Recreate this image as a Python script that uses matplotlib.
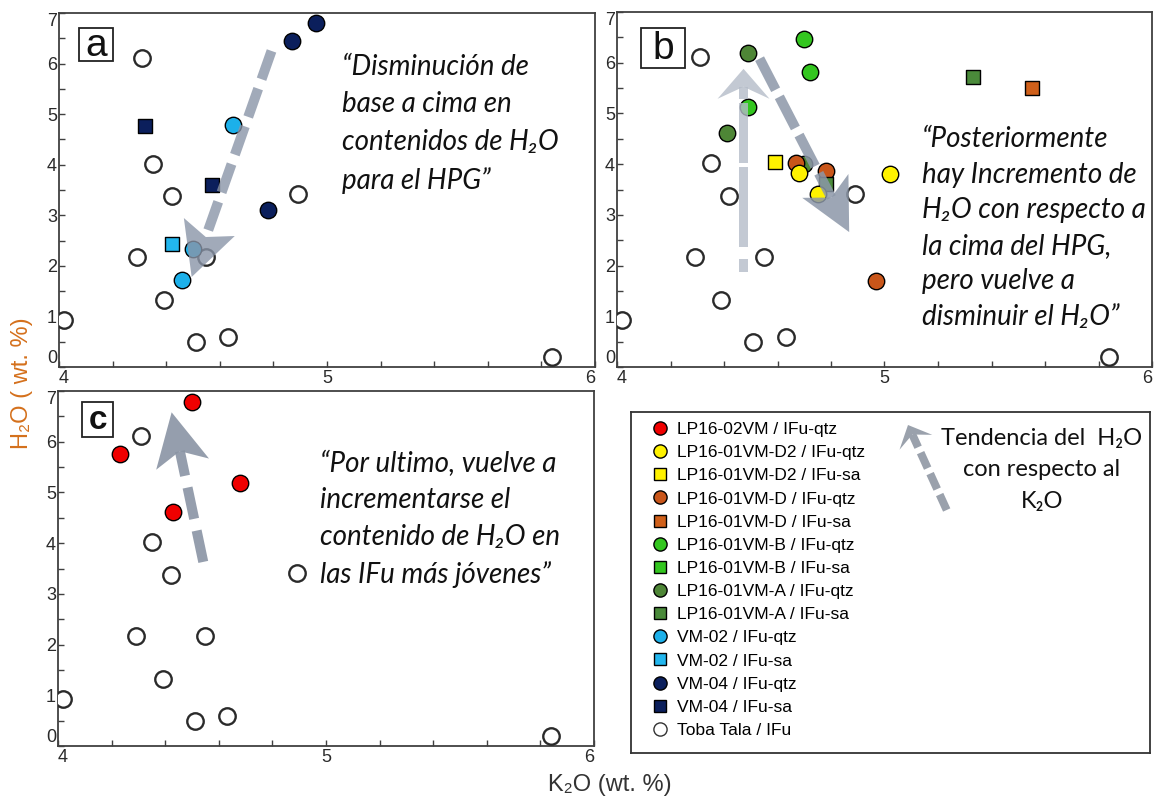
import matplotlib
matplotlib.use('Agg')
import matplotlib.pyplot as plt
import numpy as np
from matplotlib.patches import Polygon, Rectangle
from matplotlib.lines import Line2D

W, H = 1156, 799

# Toba Tala / IFu (drawn in every panel)
toba_k2o = [4.31, 4.35, 4.42, 4.29, 4.55, 4.39, 4.02, 4.51, 4.63, 4.89, 5.84]
toba_h2o = [6.12, 4.02, 3.38, 2.17, 2.17, 1.32, 0.93, 0.50, 0.60, 3.42, 0.19]

# panel a
vm04_qtz_k2o = [4.96, 4.87, 4.78]
vm04_qtz_h2o = [6.80, 6.44, 3.10]
vm04_sa_k2o = [4.32, 4.57]
vm04_sa_h2o = [4.77, 3.60]
vm02_qtz_k2o = [4.65, 4.46, 4.50]
vm02_qtz_h2o = [4.79, 1.72, 2.34]
vm02_sa_k2o = [4.42]
vm02_sa_h2o = [2.44]

# panel b
a_qtz_k2o = [4.49, 4.41, 4.70]
a_qtz_h2o = [6.19, 4.62, 4.00]
d_qtz_k2o = [4.67, 4.78, 4.97]
d_qtz_h2o = [4.02, 3.87, 1.69]
a_sa_k2o = [4.78, 5.33]
a_sa_h2o = [3.61, 5.71]
d2_qtz_k2o = [4.68, 4.75, 5.02]
d2_qtz_h2o = [3.82, 3.42, 3.80]
d2_sa_k2o = [4.59]
d2_sa_h2o = [4.05]
b_qtz_k2o = [4.70, 4.72, 4.49]
b_qtz_h2o = [6.47, 5.82, 5.13]
b_sa_k2o = []
b_sa_h2o = []
d_sa_k2o = [5.55]
d_sa_h2o = [5.50]

# panel c
lp02_qtz_k2o = [4.50, 4.23, 4.68, 4.43]
lp02_qtz_h2o = [6.79, 5.76, 5.18, 4.61]

legend_labels = ['LP16-02VM / IFu-qtz', 'LP16-01VM-D2 / IFu-qtz', 'LP16-01VM-D2 / IFu-sa',
                 'LP16-01VM-D / IFu-qtz', 'LP16-01VM-D / IFu-sa', 'LP16-01VM-B / IFu-qtz',
                 'LP16-01VM-B / IFu-sa', 'LP16-01VM-A / IFu-qtz', 'LP16-01VM-A / IFu-sa',
                 'VM-02 / IFu-qtz', 'VM-02 / IFu-sa', 'VM-04 / IFu-qtz', 'VM-04 / IFu-sa',
                 'Toba Tala / IFu']
legend_markers = ['o', 'o', 's', 'o', 's', 'o', 's', 'o', 's', 'o', 's', 'o', 's', 'o']
legend_colors = ['#f00000', '#fff200', '#fff200', '#c9561a', '#d0601a', '#33c61f', '#33c61f',
                 '#4e8636', '#4a8a3a', '#1cb0ea', '#22b6ee', '#0b1f5c', '#0b1f5c', 'white']

SANS = ['Liberation Sans', 'DejaVu Sans']
CAL = ['Lato', 'DejaVu Sans']
TICK_C = '#2a2a2a'


def fx(x):
    return x / W


def fy(y):
    return 1 - y / H


def make_axes(left, top, right, bottom):
    ax = fig.add_axes([fx(left), fy(bottom), (right - left) / W, (bottom - top) / H])
    ax.set_xlim(4, 6)
    ax.set_ylim(0, 7)
    ax.set_xticks([4, 5, 6])
    ax.set_yticks(range(8))
    ax.set_xticks(np.arange(4, 6.01, 0.2), minor=True)
    ax.set_yticks(np.arange(0, 7.01, 0.5), minor=True)
    ax.tick_params(which='both', direction='in', length=4, width=1, color='#404040')
    ax.tick_params(axis='x', labelsize=13, labelcolor=TICK_C, pad=2.5)
    ax.tick_params(axis='y', labelsize=13, labelcolor=TICK_C, pad=1.5)
    for sp in ax.spines.values():
        sp.set_color('#404040')
        sp.set_linewidth(1.3)
    for lab in ax.get_xticklabels() + ax.get_yticklabels():
        lab.set_family(SANS)
    xl = ax.get_xticklabels()
    xl[0].set_ha('left')
    xl[-1].set_ha('right')
    yl = ax.get_yticklabels()
    yl[0].set_va('bottom')
    yl[-1].set_va('top')
    return ax


def pts(ax, x, y, i, z=3):
    m = legend_markers[i]
    if i == 13:
        ax.scatter(x, y, s=140, marker='o', facecolor='white', edgecolor='#2a2a2a',
                   linewidth=1.7, zorder=z)
    else:
        ax.scatter(x, y, s=140 if m == 'o' else 98, marker=m, facecolor=legend_colors[i],
                   edgecolor='black', linewidth=1.0, zorder=z)


def dashed_arrow(ax, tail, tip, color, alpha, w, pattern, head_len, head_half, notch, tr=None):
    tr = ax.transData if tr is None else tr
    inv = ax.transData.inverted()
    p0 = tr.transform(tail)
    p1 = tr.transform(tip)
    d = p1 - p0
    L = np.hypot(*d)
    u = d / L
    n = np.array([-u[1], u[0]])
    base = p1 - u * head_len
    nb = p1 - u * head_len * notch
    shaft = L - head_len * notch
    s, i = 0.0, 0
    while s < shaft:
        dash = pattern[i % len(pattern)]
        gap = pattern[(i + 1) % len(pattern)]
        e = min(s + dash, shaft)
        a = p0 + u * s
        b = p0 + u * e
        poly = np.array([a + n * w / 2, b + n * w / 2, b - n * w / 2, a - n * w / 2])
        ax.add_patch(Polygon(inv.transform(poly), closed=True, facecolor=color,
                             edgecolor='none', alpha=alpha, zorder=6, clip_on=False))
        s = e + gap
        i += 2
    head = np.array([p1, base + n * head_half, nb, base - n * head_half])
    ax.add_patch(Polygon(inv.transform(head), closed=True, facecolor=color,
                         edgecolor='none', alpha=alpha, zorder=6, clip_on=False))


def panel_letter(x0, y0, x1, y1, letter, weight='normal', size=28):
    fig.patches.append(Rectangle((fx(x0), fy(y1)), (x1 - x0) / W, (y1 - y0) / H,
                                 transform=fig.transFigure, facecolor='white',
                                 edgecolor='#222222', linewidth=1.3, zorder=5))
    fig.text(fx((x0 + x1) / 2), fy((y0 + y1) / 2 + 1), letter, ha='center', va='center',
             fontsize=size, family=SANS, fontweight=weight, color='#111111', zorder=6)


fig = plt.figure(figsize=(W / 100, H / 100), dpi=100)

# ---- panel a
ax_a = make_axes(59, 13, 595, 367)
pts(ax_a, toba_k2o, toba_h2o, 13)
pts(ax_a, vm04_qtz_k2o, vm04_qtz_h2o, 11)
pts(ax_a, vm04_sa_k2o, vm04_sa_h2o, 12)
pts(ax_a, vm02_qtz_k2o, vm02_qtz_h2o, 9)
pts(ax_a, vm02_sa_k2o, vm02_sa_h2o, 10)
dashed_arrow(ax_a, (4.793, 6.25), (4.495, 1.78), '#8a95a8', 0.8, 10, [30, 10], 53, 27, 0.8)

# ---- panel b
ax_b = make_axes(617, 12, 1152, 367)
pts(ax_b, toba_k2o, toba_h2o, 13)
pts(ax_b, a_qtz_k2o, a_qtz_h2o, 7)
pts(ax_b, b_qtz_k2o, b_qtz_h2o, 5)
pts(ax_b, b_sa_k2o, b_sa_h2o, 6)
pts(ax_b, d_qtz_k2o, d_qtz_h2o, 3)
pts(ax_b, a_sa_k2o, a_sa_h2o, 8)
pts(ax_b, d2_qtz_k2o, d2_qtz_h2o, 1)
pts(ax_b, d2_sa_k2o, d2_sa_h2o, 2)
pts(ax_b, d_sa_k2o, d_sa_h2o, 4)
dashed_arrow(ax_b, (4.473, 1.88), (4.473, 5.88), '#b4bcc8', 0.8, 9, [13, 12, 80, 4, 60, 4], 30, 26, 0.6)
dashed_arrow(ax_b, (4.533, 6.08), (4.868, 2.66), '#8c97a8', 0.85, 10, [35, 8], 52, 26, 0.75)

# ---- panel c
ax_c = make_axes(58, 391, 594, 746)
pts(ax_c, toba_k2o, toba_h2o, 13)
pts(ax_c, lp02_qtz_k2o, lp02_qtz_h2o, 0)
dashed_arrow(ax_c, (4.542, 3.63), (4.424, 6.58), '#8a94a4', 0.9, 10, [32, 12], 53, 27, 0.75)

# ---- legend box
ax_l = fig.add_axes([fx(631), fy(753), (1150 - 631) / W, (753 - 412) / H])
ax_l.set_xlim(0, 1)
ax_l.set_ylim(0, 1)
ax_l.set_xticks([])
ax_l.set_yticks([])
for sp in ax_l.spines.values():
    sp.set_color('#333333')
    sp.set_linewidth(1.3)

handles = []
for lab, m, c in zip(legend_labels, legend_markers, legend_colors):
    ec = '#333333' if c == 'white' else 'black'
    handles.append(Line2D([], [], linestyle='none', marker=m, markersize=9.5 if m == 'o' else 8,
                          markerfacecolor=c, markeredgecolor=ec, markeredgewidth=1.0, label=lab))
fig.legend(handles=handles, loc='upper left', bbox_to_anchor=(fx(651), fy(422)),
           bbox_transform=fig.transFigure, frameon=False, borderpad=0, borderaxespad=0,
           handlelength=1.0, handletextpad=0.5, labelspacing=0.46,
           prop={'family': SANS, 'size': 12.5})

lt = fig.transFigure
dashed_arrow(ax_l, (fx(946.7), fy(510)), (fx(908), fy(425)), '#9aa1ac', 1.0, 8, [17, 6], 19, 18, 0.55, tr=lt)
fig.text(fx(1042), fy(470), 'Tendencia del  H₂O\ncon respecto al\nK₂O', ha='center', va='center',
         multialignment='center', fontsize=17, family=CAL, color='#111111', linespacing=1.6)

# ---- annotations
it = dict(fontsize=20, family=CAL, style='italic', color='#111111',
          ha='left', va='center')
fig.text(fx(342), fy(124), '“Disminución de\nbase a cima en\ncontenidos de H₂O\npara el HPG”',
         linespacing=1.55, **it)
fig.text(fx(922), fy(228), '“Posteriormente\nhay Incremento de\nH₂O con respecto a\n'
         'la cima del HPG,\npero vuelve a\ndisminuir el H₂O”', linespacing=1.46, **it)
fig.text(fx(320), fy(519), '“Por ultimo, vuelve a\nincrementarse el\ncontenido de H₂O en\n'
         'las IFu más jóvenes”', linespacing=1.5, **it)

panel_letter(79, 28, 113, 61, 'a')
panel_letter(641, 28, 685, 68, 'b')
panel_letter(82, 402, 113, 437, 'c', weight='bold', size=24)

fig.text(fx(22), fy(383), 'H₂O ( wt. %)', rotation=90, ha='center', va='center',
         fontsize=17, family=SANS, color='#d4701c')
fig.text(fx(548), fy(785), 'K₂O (wt. %)', ha='left', va='center', fontsize=17,
         family=SANS, color='#333333')

fig.savefig('out.png', dpi=100)
